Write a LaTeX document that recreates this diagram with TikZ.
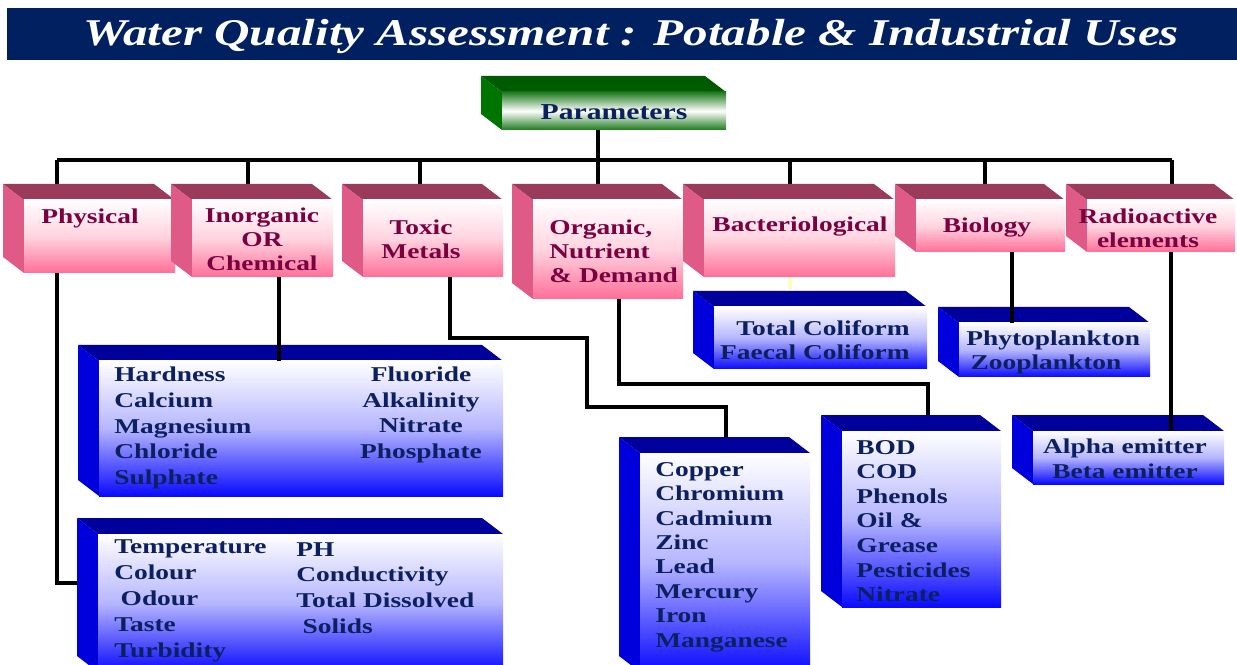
\documentclass[tikz,border=0pt]{standalone}
\usepackage{fontspec}
\setmainfont[FakeStretch=1.3]{Liberation Serif}
\usetikzlibrary{fit}
\pgfdeclarelayer{back}
\pgfsetlayers{back,main}
\definecolor{navy}{HTML}{002060}
\definecolor{wine}{HTML}{7A0040}
\definecolor{ink}{HTML}{0C2060}
\definecolor{pinktop}{HTML}{9B3B5B}
\definecolor{pinkside}{HTML}{E05A87}
\definecolor{pinkfront}{HTML}{FF6E98}
\definecolor{bluetop}{HTML}{00009A}
\definecolor{blueside}{HTML}{0000DC}
\definecolor{bluefront}{HTML}{0A0AFF}
\definecolor{greentop}{HTML}{005A00}
\definecolor{greenside}{HTML}{007400}
\definecolor{greenfront}{HTML}{1E7A1E}
% slab: [colour](left,top)(right,bottom){name} -- front face is a node, top and left faces behind it
\def\slab[#1](#2,#3)(#4,#5)#6{%
	\fill[#1top] (#2,#3) -- (#4,#3) -- (#4-21,#3-16) -- (#2-21,#3-16) -- cycle;
	\fill[#1side] (#2,#3) -- (#2,#5) -- (#2-21,#5-16) -- (#2-21,#3-16) -- cycle;
	\coordinate (#6-nw) at (#2,#3);
	\coordinate (#6-se) at (#4,#5);
	\node[fit=(#6-nw)(#6-se), inner sep=0pt, #1face] (#6) {};
}
\tikzset{
	pinkface/.style={top color=white, bottom color=pinkfront, middle color=pinkfront!30!white},
	blueface/.style={top color=white, bottom color=bluefront, middle color=bluefront!30!white},
	greenface/.style={top color=greenfront, bottom color=greenfront, middle color=white},
	pinktxt/.style={text=wine, font=\bfseries\fontsize{12}{13.6}\selectfont, align=center, inner sep=0pt},
	bluetxt/.style={text=ink, font=\bfseries\fontsize{12}{#1}\selectfont, align=left, inner sep=0pt},
	bluetxt/.default=14,
	link/.style={line width=1.8pt, black},
}

\begin{document}
\begin{tikzpicture}[x=0.02cm, y=-0.02cm]
	\useasboundingbox (0,0) rectangle (1237,665);
	\clip (0,0) rectangle (1237,665);
	
	% banner
	\fill[navy] (7,8) rectangle (1237,60);
	\node[text=white, font=\bfseries\itshape\fontsize{21.5}{24}\selectfont] (title) at (631,36) {Water Quality Assessment : Potable \& Industrial Uses};
	
	\slab[green](502,92)(726,130){params}
	\node[text=ink, font=\bfseries\fontsize{13}{15}\selectfont] (t-params) at (614,112) {Parameters};
	
	% first row
	\slab[pink](24,200)(175,273){physical}
	\slab[pink](192,200)(333,277){inorganic}
	\slab[pink](363,200)(503,277){toxic}
	\slab[pink](533,200)(683,299){organic}
	\slab[pink](704,200)(895,277){bacterio}
	\slab[pink](916,200)(1065,252){biology}
	\slab[pink](1087,200)(1235,252){radio}
	
	\node[pinktxt] (t-physical) at (90,218) {Physical};
	\node[pinktxt] (t-inorganic) at (262,239) {Inorganic\\OR\\Chemical};
	\node[pinktxt] (t-toxic) at (421,239) {Toxic\\Metals};
	\node[pinktxt, align=left, anchor=west] (t-organic) at (549,251) {Organic,\\Nutrient\\\& Demand};
	\node[pinktxt] (t-bacterio) at (800,227) {Bacteriological};
	\node[pinktxt] (t-biology) at (987,228) {Biology};
	\node[pinktxt] (t-radio) at (1148,228) {Radioactive\\elements};
	
	% lists
	\slab[blue](714,307)(927,369){colilist}
	\slab[blue](959,323)(1150,377){planklist}
	\slab[blue](99,361)(503,496){inorglist}
	\slab[blue](842,431)(1001,607){demandlist}
	\slab[blue](1033,431)(1224,484){radiolist}
	\slab[blue](640,453)(810,672){metallist}
	\slab[blue](98,534)(503,672){physlist}
	
	\node[bluetxt=14.7, anchor=west] (hardness) at (114,428) {Hardness\\Calcium\\Magnesium\\Chloride\\Sulphate};
	\node[bluetxt=14.7, align=center] (fluoride) at (421,415) {Fluoride\\Alkalinity\\Nitrate\\Phosphate};
	\node[bluetxt=14.7, anchor=west] (temperature) at (114,601) {Temperature\\Colour\\\hspace*{0.3em}Odour\\Taste\\Turbidity};
	\node[bluetxt=14.7, anchor=west] (ph) at (296,588) {PH\\Conductivity\\Total Dissolved\\\hspace*{0.3em}Solids};
	\node[bluetxt=13.9, anchor=west] (copper) at (655,557) {Copper\\Chromium\\Cadmium\\Zinc\\Lead\\Mercury\\Iron\\Manganese};
	\node[bluetxt=14, anchor=west] (bod) at (856,521) {BOD\\COD\\Phenols\\Oil \&\\Grease\\Pesticides\\Nitrate};
	\node[bluetxt=13.6, align=right, anchor=east] (coliform) at (910,340) {Total Coliform\\Faecal Coliform};
	\node[bluetxt=13.6, anchor=west] (plankton) at (966,352) {Phytoplankton\\\hspace*{0.2em}Zooplankton};
	\node[bluetxt=14, align=center] (emitter) at (1125,459) {Alpha emitter\\Beta emitter};
	
	% taps
	\coordinate (bus) at (0,160);
	\coordinate (k1) at (57,583);
	\coordinate (k2) at (279,0);
	\coordinate (k3) at (450,338);
	\coordinate (k4) at (587,407);
	\coordinate (k5) at (726,407);
	\coordinate (k6) at (619,384);
	\coordinate (k7) at (928,384);
	\coordinate (k8) at (790,0);
	\coordinate (k9) at (1012,0);
	\coordinate (k10) at (1171,0);
	
	\begin{pgfonlayer}{back}
		\draw[link] (params.south -| 598,0) -- (598,160);
		\draw[link] (57,160) -- (1172,160);
		\foreach \n/\x in {physical/57, inorganic/248, toxic/420, organic/598, bacterio/790, biology/985, radio/1172}{
			\coordinate (up-\n) at (\x,160);
			\draw[link] (up-\n) -- (up-\n |- \n.north);
		}
		\draw[link] (physical.south -| k1) -- (k1) -- (k1 -| physlist.west);
		\draw[link] (toxic.south -| k3) -- (k3) -- (k3 -| k4) -- (k4) -- (k5) -- (metallist.north -| k5);
		\draw[link] (organic.south -| k6) -- (k6) -- (k7) -- (demandlist.north -| k7);
		\draw[line width=1.8pt, yellow!25] (bacterio.south -| k8) -- (colilist.north -| k8);
	\end{pgfonlayer}
	
	\draw[link] (inorganic.south -| k2) -- (inorglist.north -| k2);
	\draw[link] (biology.south -| k9) -- (planklist.north -| k9);
	\draw[link] (radio.south -| k10) -- (radiolist.north -| k10);
	
\end{tikzpicture}
\end{document}
